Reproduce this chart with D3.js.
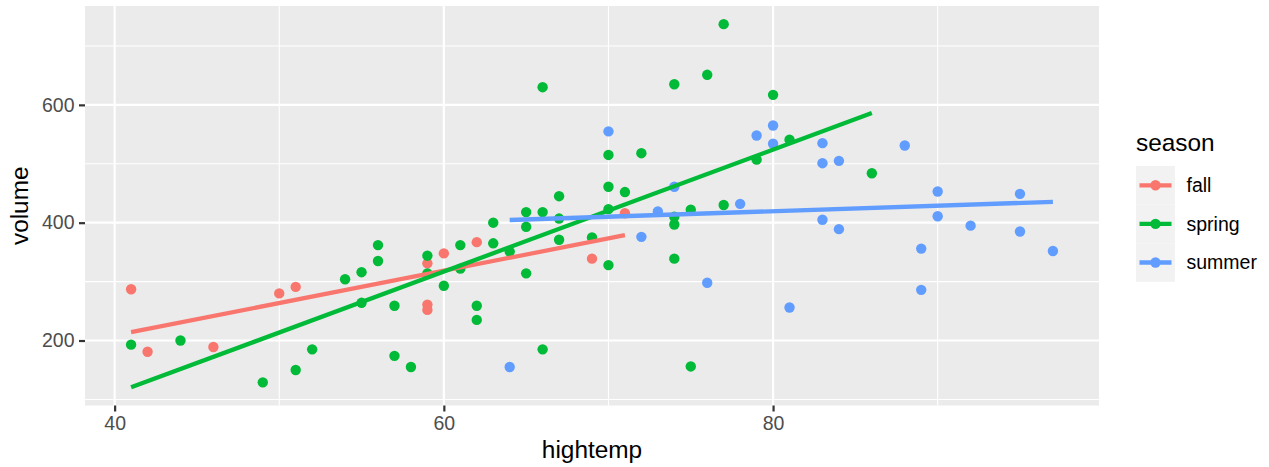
<!DOCTYPE html>
<html>
<head>
<meta charset="utf-8">
<script src="https://cdn.jsdelivr.net/npm/d3@7"></script>
<style>
  body { margin: 0; background: #fff; }
  text { font-family: "Liberation Sans", Arial, sans-serif; }
</style>
</head>
<body>
<div id="chart"></div>
<script>
(function () {
    'use strict';

    // hightemp / volume pairs
    var fallTemp   = [41, 42, 46, 50, 51, 59, 59, 59, 60, 62, 69, 71],
        fallVol    = [287, 181, 189, 280, 291, 331, 261, 252, 348, 367, 339, 416],
        springTemp = [41, 44, 49, 51, 52, 54, 55, 55, 56, 56, 57, 57, 58, 59, 59, 60, 61, 61,
                      62, 62, 63, 63, 64, 65, 65, 65, 66, 66, 66, 67, 67, 67, 69, 70, 70, 70,
                      70, 71, 72, 74, 74, 74, 74, 75, 75, 76, 77, 77, 79, 80, 81, 86],
        springVol  = [193, 200, 129, 150, 185, 304, 316, 264, 362, 335, 259, 174, 155, 344, 314, 293, 362, 322,
                      259, 235, 400, 365, 351, 418, 393, 314, 418, 185, 630, 445, 407, 371, 375, 515, 461, 423,
                      328, 452, 518, 635, 410, 397, 339, 422, 156, 651, 737, 430, 507, 617, 541, 484],
        summerTemp = [64, 70, 72, 73, 74, 76, 78, 79, 80, 80, 81, 83, 83, 83, 84, 84, 88, 89, 89,
                      90, 90, 92, 95, 95, 97],
        summerVol  = [155, 555, 376, 419, 461, 298, 432, 548, 565, 534, 256, 535, 501, 405, 505, 389, 531, 356, 286,
                      453, 411, 395, 449, 385, 352];

    var seasons = ["fall", "spring", "summer"],
        colors = ["#F8766D", "#00BA38", "#619CFF"],
        xTicks = [40, 60, 80],
        yTicks = [200, 400, 600],
        xMinor = [50, 70, 90],
        yMinor = [100, 300, 500, 700];

    var width = 1269, height = 467,
        left = 85, right = 1099, top = 6, bottom = 405.5;

    function makeGroup(name, temps, vols) {
        return {
            name: name,
            points: temps.map(function (t, i) { return {x: t, y: vols[i], season: name}; })
        };
    }

    var groups = [
        makeGroup("fall", fallTemp, fallVol),
        makeGroup("spring", springTemp, springVol),
        makeGroup("summer", summerTemp, summerVol)
    ];

    // least squares fit per season, like geom_smooth(method = "lm", se = FALSE)
    groups.forEach(function (g) {
        var mx = d3.mean(g.points, function (d) { return d.x; }),
            my = d3.mean(g.points, function (d) { return d.y; }),
            sxy = d3.sum(g.points, function (d) { return (d.x - mx) * (d.y - my); }),
            sxx = d3.sum(g.points, function (d) { return (d.x - mx) * (d.x - mx); }),
            b = sxy / sxx, a = my - b * mx,
            ext = d3.extent(g.points, function (d) { return d.x; });
        g.fit = ext.map(function (x) { return {x: x, y: a + b * x}; });
    });

    var allPts = d3.merge(groups.map(function (g) { return g.points.concat(g.fit); }));
    var xExt = d3.extent(allPts, function (d) { return d.x; }),
        yExt = d3.extent(allPts, function (d) { return d.y; });
    var xPad = (xExt[1] - xExt[0]) * 0.05, yPad = (yExt[1] - yExt[0]) * 0.05;

    var x = d3.scaleLinear().domain([xExt[0] - xPad, xExt[1] + xPad]).range([left, right]);
    var y = d3.scaleLinear().domain([yExt[0] - yPad, yExt[1] + yPad]).range([bottom, top]);
    var color = d3.scaleOrdinal().domain(seasons).range(colors);

    var svg = d3.select("#chart").append("svg")
        .attr("width", width)
        .attr("height", height);

    svg.append("rect")
        .attr("x", left).attr("y", top)
        .attr("width", right - left).attr("height", bottom - top)
        .attr("fill", "#EBEBEB");

    var grid = svg.append("g");
    grid.selectAll(".ymin").data(yMinor).enter().append("line")
        .attr("x1", left).attr("x2", right)
        .attr("y1", function (d) { return y(d); }).attr("y2", function (d) { return y(d); })
        .attr("stroke", "#fff").attr("stroke-width", 1.1);
    grid.selectAll(".xmin").data(xMinor).enter().append("line")
        .attr("y1", top).attr("y2", bottom)
        .attr("x1", function (d) { return x(d); }).attr("x2", function (d) { return x(d); })
        .attr("stroke", "#fff").attr("stroke-width", 1.1);
    grid.selectAll(".ymaj").data(yTicks).enter().append("line")
        .attr("x1", left).attr("x2", right)
        .attr("y1", function (d) { return y(d); }).attr("y2", function (d) { return y(d); })
        .attr("stroke", "#fff").attr("stroke-width", 2.2);
    grid.selectAll(".xmaj").data(xTicks).enter().append("line")
        .attr("y1", top).attr("y2", bottom)
        .attr("x1", function (d) { return x(d); }).attr("x2", function (d) { return x(d); })
        .attr("stroke", "#fff").attr("stroke-width", 2.2);

    // points first, then the fitted lines on top
    svg.append("g").selectAll("circle")
        .data(d3.merge(groups.map(function (g) { return g.points; })))
        .enter().append("circle")
        .attr("cx", function (d) { return x(d.x); })
        .attr("cy", function (d) { return y(d.y); })
        .attr("r", 5.2)
        .attr("fill", function (d) { return color(d.season); });

    var line = d3.line().x(function (d) { return x(d.x); }).y(function (d) { return y(d.y); });
    svg.append("g").selectAll("path")
        .data(groups)
        .enter().append("path")
        .attr("d", function (d) { return line(d.fit); })
        .attr("fill", "none")
        .attr("stroke", function (d) { return color(d.name); })
        .attr("stroke-width", 4.3);

    // axes
    var xAxis = svg.append("g")
        .attr("transform", "translate(0," + bottom + ")")
        .call(d3.axisBottom(x).tickValues(xTicks).tickSize(6).tickPadding(4.5));
    var yAxis = svg.append("g")
        .attr("transform", "translate(" + left + ",0)")
        .call(d3.axisLeft(y).tickValues(yTicks).tickSize(6).tickPadding(4.5));
    [xAxis, yAxis].forEach(function (ax) {
        ax.select(".domain").remove();
        ax.selectAll(".tick line").attr("stroke", "#333333").attr("stroke-width", 2.2);
        ax.selectAll(".tick text")
            .attr("fill", "#4D4D4D")
            .style("font-size", "19.5px")
            .style("font-family", "'Liberation Sans', Arial, sans-serif");
    });

    svg.append("text")
        .attr("x", (left + right) / 2).attr("y", 458)
        .attr("text-anchor", "middle")
        .style("font-size", "24.4px")
        .text("hightemp");

    svg.append("text")
        .attr("transform", "translate(28," + ((top + bottom) / 2) + ") rotate(-90)")
        .attr("text-anchor", "middle")
        .style("font-size", "24.4px")
        .text("volume");

    // legend
    var legend = svg.append("g").attr("transform", "translate(1136,0)");
    legend.append("text")
        .attr("x", 0).attr("y", 151)
        .style("font-size", "24.4px")
        .text("season");

    var keyH = 38.6, keyW = 39, keyTop = 166;
    var keys = legend.selectAll(".key").data(seasons).enter().append("g")
        .attr("transform", function (d, i) { return "translate(0," + (keyTop + i * keyH) + ")"; });
    keys.append("rect")
        .attr("width", keyW).attr("height", keyH)
        .attr("fill", "#F2F2F2");
    keys.append("line")
        .attr("x1", 3.5).attr("x2", keyW - 3.5)
        .attr("y1", keyH / 2).attr("y2", keyH / 2)
        .attr("stroke", function (d) { return color(d); })
        .attr("stroke-width", 4.3);
    keys.append("circle")
        .attr("cx", keyW / 2).attr("cy", keyH / 2).attr("r", 5.2)
        .attr("fill", function (d) { return color(d); });
    keys.append("text")
        .attr("x", 50.5).attr("y", keyH / 2).attr("dy", "0.35em")
        .style("font-size", "19.5px")
        .text(function (d) { return d; });
}());
</script>
</body>
</html>
